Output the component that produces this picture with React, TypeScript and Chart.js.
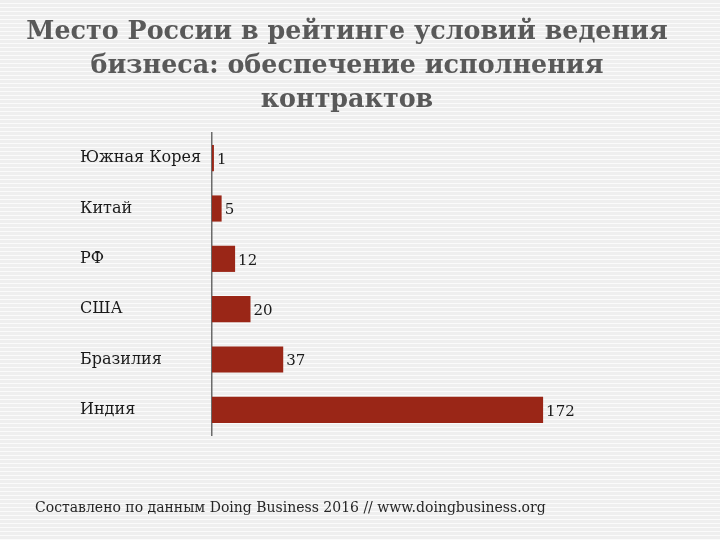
import React, { useEffect, useRef } from "react";
import { Chart, registerables } from "chart.js";

Chart.register(...registerables);

const categories = ["Южная Корея", "Китай", "РФ", "США", "Бразилия", "Индия"];
const ranks = [1, 5, 12, 20, 37, 172];
const titleLines = [
  "Место России в рейтинге условий ведения",
  "бизнеса: обеспечение исполнения",
  "контрактов",
];
const footnote = "Составлено по данным Doing Business 2016 // www.doingbusiness.org";

const SERIF = "'DejaVu Serif', 'Liberation Serif', serif";

const textPlugin = {
  id: "textPlugin",
  afterDatasetsDraw(chart: any) {
    const { ctx } = chart;
    const meta = chart.getDatasetMeta(0);
    ctx.save();
    ctx.fillStyle = "#1a1a1a";
    ctx.font = `15px ${SERIF}`;
    ctx.textBaseline = "middle";
    ctx.textAlign = "left";
    meta.data.forEach((bar: any, i: number) => {
      ctx.fillText(String(ranks[i]), bar.x + 3, bar.y + 2);
    });
    ctx.restore();
  },
  afterDraw(chart: any) {
    const { ctx } = chart;
    ctx.save();
    ctx.fillStyle = "#595959";
    ctx.font = `bold 25.4px ${SERIF}`;
    ctx.textAlign = "center";
    ctx.textBaseline = "middle";
    titleLines.forEach((line, i) => {
      ctx.fillText(line, 347, 32 + i * 34);
    });
    ctx.fillStyle = "#262626";
    ctx.font = `14px ${SERIF}`;
    ctx.textAlign = "left";
    ctx.fillText(footnote, 35, 508);
    ctx.restore();
  },
};

export default function App() {
  const ref = useRef<HTMLCanvasElement>(null);
  useEffect(() => {
    if (!ref.current) return;
    const chart = new Chart(ref.current, {
      type: "bar",
      data: {
        labels: categories,
        datasets: [
          {
            data: ranks,
            backgroundColor: "#9a2617",
            borderWidth: 0,
            barPercentage: 0.52,
            categoryPercentage: 1,
          },
        ],
      },
      options: {
        indexAxis: "y",
        animation: false,
        responsive: false,
        layout: { padding: { top: 133, bottom: 105, left: 80, right: 123 } },
        plugins: { legend: { display: false }, tooltip: { enabled: false }, title: { display: false } },
        scales: {
          x: { display: false, min: 0, max: 200 },
          y: {
            afterFit(scale: any) {
              scale.width = 132;
            },
            grid: { display: false, drawTicks: false },
            border: { display: true, color: "#6b6b6b", width: 1.5 },
            ticks: {
              crossAlign: "far",
              color: "#1a1a1a",
              font: { family: SERIF, size: 16 },
              padding: 6,
            },
          },
        },
      },
      plugins: [textPlugin],
    } as any);
    return () => chart.destroy();
  }, []);
  return (
    <div
      style={{
        position: "fixed",
        left: 0,
        top: 0,
        width: 720,
        height: 540,
        background: "repeating-linear-gradient(to bottom, #efefef 0px, #efefef 3px, #fbfbfb 3px, #fbfbfb 4px)",
      }}
    >
      <canvas ref={ref} width={720} height={540} />
    </div>
  );
}
